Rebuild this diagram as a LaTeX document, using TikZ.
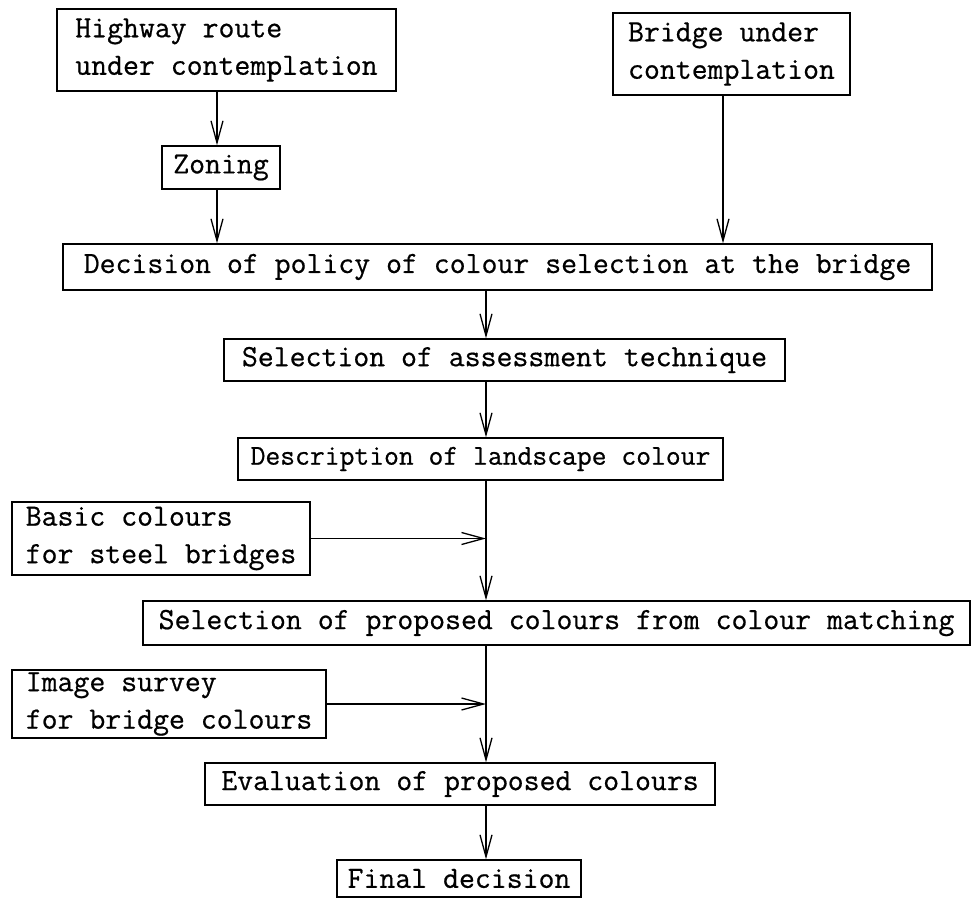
\documentclass[tikz,border=0pt]{standalone}
\usepackage{fontspec}
\newfontfamily\twfont{Latin Modern Mono}[FakeBold=0.6]
\usetikzlibrary{arrows.meta}
\begin{document}
\begin{tikzpicture}[x=1pt,y=-1pt,
  box/.style={draw, line width=1.4pt, inner sep=0pt, align=left,
    font=\twfont\fontsize{30.9}{37.5}\selectfont},
  arr/.style={line width=1.3pt, -{Straight Barb[length=22pt,width=12pt,line width=1.3pt]}}]
\useasboundingbox (0,0) rectangle (971,899);
\node[box, minimum width=339, minimum height=82] (hw) at (226.5,50) {Highway route\\under contemplation};
\node[box, minimum width=118, minimum height=43] (zon) at (221,167.5) {Zoning};
\node[box, minimum width=237, minimum height=82] (br) at (731.5,54) {Bridge under\\contemplation};
\node[box, minimum width=869, minimum height=46] (dec) at (497.5,267) {Decision of policy of colour selection at the bridge};
\node[box, minimum width=561, minimum height=42] (sel) at (504.5,360) {Selection of assessment technique};
\node[box, minimum width=485, minimum height=42, font=\twfont\fontsize{28.8}{36}\selectfont] (desc) at (480.5,459) {Description of landscape colour};
\node[box, minimum width=298, minimum height=73] (basic) at (161,538.5) {Basic colours\\for steel bridges};
\node[box, minimum width=827, minimum height=44] (prop) at (556.5,623) {Selection of proposed colours from colour matching};
\node[box, minimum width=314, minimum height=68] (img) at (169,704) {Image survey\\for bridge colours};
\node[box, minimum width=510, minimum height=42] (eval) at (460,784) {Evaluation of proposed colours};
\node[box, minimum width=244, minimum height=37] (fin) at (459,878.5) {Final decision};
\coordinate (lcol) at (217,0);
\coordinate (rcol) at (723,0);
\coordinate (axis) at (486,0);
\draw[arr] (hw.south -| lcol) -- (zon.north -| lcol);
\draw[arr] (zon.south -| lcol) -- (dec.north -| lcol);
\draw[arr] (br.south -| rcol) -- (dec.north -| rcol);
\draw[arr] (dec.south -| axis) -- (sel.north -| axis);
\draw[arr] (sel.south -| axis) -- (desc.north -| axis);
\draw[arr] (desc.south -| axis) -- (prop.north -| axis);
\draw[arr] (basic.east) -- (basic.east -| axis);
\draw[arr] (prop.south -| axis) -- (eval.north -| axis);
\draw[arr] (img.east) -- (img.east -| axis);
\draw[arr] (eval.south -| axis) -- (fin.north -| axis);
\end{tikzpicture}
\end{document}
